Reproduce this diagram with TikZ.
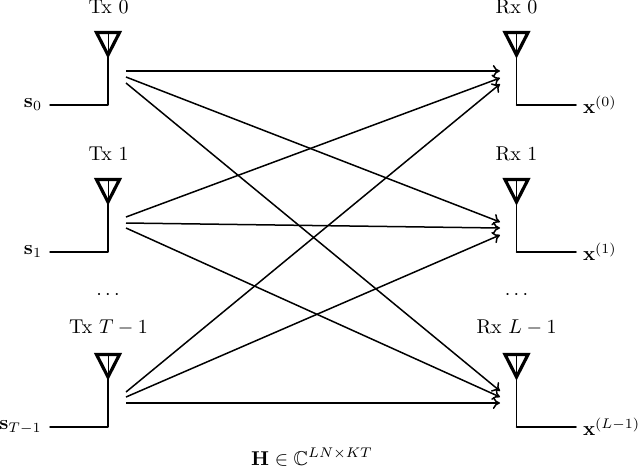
\documentclass[tikz,border=0pt]{standalone}
\usepackage{amssymb}
\usetikzlibrary{arrows.meta}
\begin{document}
\begin{tikzpicture}[x=0.5pt,y=-0.5pt,
  wire/.style={line width=0.75pt,line cap=round,line join=miter},
  link/.style={line width=0.75pt,-{Computer Modern Rightarrow[length=3.6pt,width=6pt]}},
  lab/.style={inner sep=0pt,outer sep=0pt}]
\useasboundingbox (0,0) rectangle (640,467);
\tikzset{
  ant/.pic={
    \draw[line width=1.6pt,line join=miter] (-11.5,-72.5)--(11.5,-72.5)--(0,-50)--cycle;
    \draw[line width=0.5pt] (0,-72.5)--(0,-50);
    \draw[line width=0.75pt] (0,-50)--(0,0);
  }}
% antennas
\coordinate (t0) at (108,105);
\coordinate (t1) at (108,252);
\coordinate (t2) at (108,427);
\coordinate (r0) at (516.5,105);
\coordinate (r1) at (516.5,252);
\coordinate (r2) at (516.5,427);
\foreach \c in {t0,t1,t2,r0,r1,r2} \pic at (\c) {ant};
% labels
\node[lab] (ltx0) at (108.5,7) {Tx 0};
\node[lab] (ltx1) at (108.5,154) {Tx 1};
\node[lab] (ltx2) at (108.5,327) {Tx $T-1$};
\node[lab] (lrx0) at (516.5,7) {Rx 0};
\node[lab] (lrx1) at (516.5,154) {Rx 1};
\node[lab] (lrx2) at (516.5,327) {Rx $L-1$};
\node[lab] (dl) at (108,295) {$\cdots$};
\node[lab] (dr) at (516.5,295) {$\cdots$};
\node[lab,anchor=east] (s0) at (42,105) {$\mathbf{s}_0$};
\node[lab,anchor=east] (s1) at (42,252) {$\mathbf{s}_1$};
\node[lab,anchor=east] (s2) at (41.5,427) {$\mathbf{s}_{T-1}$};
\node[lab,anchor=west] (x0) at (583,105) {$\mathbf{x}^{(0)}$};
\node[lab,anchor=west] (x1) at (583,252) {$\mathbf{x}^{(1)}$};
\node[lab,anchor=west] (x2) at (583,427) {$\mathbf{x}^{(L-1)}$};
\node[lab] (H) at (312,457) {$\mathbf{H}\in\mathbb{C}^{LN\times KT}$};
% feed lines
\coordinate (a0) at (50,105); \coordinate (a1) at (50,252); \coordinate (a2) at (50,427);
\coordinate (b0) at (576,105); \coordinate (b1) at (576,252); \coordinate (b2) at (576,427);
\draw[wire] (a0)--(t0); \draw[wire] (a1)--(t1); \draw[wire] (a2)--(t2);
\draw[wire] (r0)--(b0); \draw[wire] (r1)--(b1); \draw[wire] (r2)--(b2);
% ports
\foreach \n/\y in {0a/71,0b/77,0c/83,1a/217,1b/223,1c/228,2a/392,2b/397,2c/403}
  \coordinate (p\n) at (126,\y);
\foreach \n/\y in {0a/71,0b/78,0c/84,1a/222,1b/228,1c/235,2a/391,2b/397,2c/403}
  \coordinate (q\n) at (500,\y);
\draw[link] (p0a)--(q0a);
\draw[link] (p0b)--(q1a);
\draw[link] (p0c)--(q2a);
\draw[link] (p1a)--(q0b);
\draw[link] (p1b)--(q1b);
\draw[link] (p1c)--(q2b);
\draw[link] (p2a)--(q0c);
\draw[link] (p2b)--(q1c);
\draw[link] (p2c)--(q2c);
\end{tikzpicture}
\end{document}
